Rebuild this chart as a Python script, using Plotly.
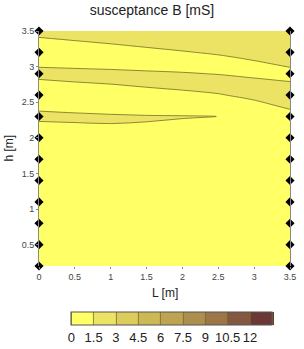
import plotly.graph_objects as go

# grid of the field (L along x, h along y)
L = [0.0, 0.5, 1.0, 1.5, 2.0, 2.5, 3.0, 3.5]
H = [0.2, 0.5, 0.8, 1.1, 1.4, 1.7, 2.0, 2.15, 2.3, 2.45, 2.6, 2.75, 2.9, 3.05, 3.2, 3.35, 3.5]

# susceptance B [mS], one list per L column, bottom (h=0.2) to top (h=3.5)
B_L00 = [0.70, 0.75, 0.80, 0.85, 0.90, 0.95, 0.90, 1.18, 1.78, 1.22, 0.90, 1.22, 1.82, 1.29, 0.90, 1.26, 1.86]
B_L05 = [0.72, 0.76, 0.80, 0.85, 0.90, 0.95, 0.95, 1.35, 1.70, 1.10, 0.85, 1.41, 1.80, 1.20, 0.85, 1.44, 2.04]
B_L10 = [0.74, 0.78, 0.82, 0.86, 0.90, 0.95, 1.00, 1.44, 1.62, 1.02, 0.90, 1.49, 1.74, 1.14, 1.02, 1.62, 2.22]
B_L15 = [0.75, 0.80, 0.84, 0.88, 0.92, 0.96, 1.00, 1.44, 1.56, 0.96, 1.06, 1.66, 1.66, 1.06, 1.22, 1.82, 2.42]
B_L20 = [0.76, 0.80, 0.85, 0.90, 0.94, 0.98, 1.00, 1.30, 1.55, 0.80, 1.22, 1.82, 1.58, 0.98, 1.42, 2.02, 2.50]
B_L25 = [0.78, 0.82, 0.86, 0.90, 0.95, 1.00, 1.05, 1.20, 1.497, 0.90, 1.42, 2.02, 1.46, 1.04, 1.64, 2.24, 2.60]
B_L30 = [0.80, 0.84, 0.88, 0.92, 0.96, 1.00, 1.00, 1.00, 1.00, 1.18, 1.78, 1.86, 1.26, 1.36, 1.96, 2.30, 2.60]
B_L35 = [0.82, 0.86, 0.90, 0.94, 0.98, 1.02, 1.00, 1.00, 1.10, 1.70, 2.10, 1.63, 1.14, 1.74, 2.20, 2.40, 2.60]

# measurement points on both sides
SENSOR_L = [0.0, 3.5]
SENSOR_H = [0.2, 0.5, 0.8, 1.1, 1.4, 1.7, 2.0, 2.3, 2.6, 2.9, 3.2, 3.5]

# colour levels
LEVELS = [0, 1.5, 3, 4.5, 6, 7.5, 9, 10.5, 12]
LEVEL_TEXT = ["0", "1.5", "3", "4.5", "6", "7.5", "9", "10.5", "12"]
LEVEL_COLORS = ["rgb(255,255,102)", "rgb(236,226,100)", "rgb(220,204,92)", "rgb(205,184,86)",
                "rgb(190,163,80)", "rgb(174,142,76)", "rgb(156,118,70)", "rgb(132,88,64)",
                "rgb(108,56,54)"]

columns = [B_L00, B_L05, B_L10, B_L15, B_L20, B_L25, B_L30, B_L35]
z = [[col[i] for col in columns] for i in range(len(H))]

n = len(LEVEL_COLORS)
cscale = []
for i, c in enumerate(LEVEL_COLORS):
    cscale.append([i / n, c])
    cscale.append([(i + 1) / n, c])

fig = go.Figure()
fig.add_trace(go.Contour(
    x=L, y=H, z=z,
    zmin=0, zmax=13.5,
    autocontour=False,
    contours=dict(start=0, end=13.5, size=1.5, coloring="fill"),
    colorscale=cscale,
    line=dict(color="rgb(115,112,40)", width=0.8, smoothing=1),
    colorbar=dict(
        orientation="h",
        x=0.529, xanchor="center",
        y=-0.1945, yanchor="top", ypad=0, xpad=0,
        len=0.80, lenmode="fraction",
        thickness=13,
        tickvals=LEVELS, ticktext=LEVEL_TEXT, tickangle=0,
        ticks="", ticklabelposition="outside bottom",
        tickfont=dict(family="Liberation Sans, Arial", size=13, color="#222"),
        outlinecolor="#555", outlinewidth=1,
    ),
    hoverinfo="skip",
))

sx, sy = [], []
for l in SENSOR_L:
    for h in SENSOR_H:
        sx.append(l)
        sy.append(h)
fig.add_trace(go.Scatter(
    x=sx, y=sy, mode="markers",
    marker=dict(symbol="diamond", size=7, color="black"),
    cliponaxis=False, showlegend=False, hoverinfo="skip",
))

tickfont = dict(family="Liberation Sans, Arial", size=9, color="#444")
fig.update_layout(
    width=304, height=349,
    margin=dict(l=39, r=8, t=31, b=73),
    paper_bgcolor="white", plot_bgcolor="white",
    showlegend=False,
    title=dict(text="susceptance B [mS]", x=0.5, xanchor="center", y=0.972, yanchor="middle",
               font=dict(family="Liberation Sans, Arial", size=14, color="#222")),
    xaxis=dict(range=[0, 3.5], tickvals=[0, 0.5, 1, 1.5, 2, 2.5, 3, 3.5],
               ticktext=["0", "0.5", "1", "1.5", "2", "2.5", "3", "3.5"],
               ticks="outside", ticklen=2, tickcolor="#888", tickfont=tickfont,
               showgrid=False, zeroline=False, showline=False),
    yaxis=dict(range=[0.2, 3.5], tickvals=[0.5, 1, 1.5, 2, 2.5, 3, 3.5],
               ticktext=["0.5", "1", "1.5", "2", "2.5", "3", "3.5"],
               ticks="outside", ticklen=2, tickcolor="#888", tickfont=tickfont,
               showgrid=False, zeroline=False, showline=True, mirror=True,
               linecolor="#888", linewidth=1),
    annotations=[
        dict(text="L [m]", xref="paper", yref="paper", x=0.5, y=0, xanchor="center",
             yanchor="middle", yshift=-27, showarrow=False,
             font=dict(family="Liberation Sans, Arial", size=12, color="#222")),
        dict(text="h [m]", xref="paper", yref="paper", x=0, y=0.5, xanchor="center",
             yanchor="middle", xshift=-31, textangle=-90, showarrow=False,
             font=dict(family="Liberation Sans, Arial", size=12, color="#222")),
    ],
)

fig.write_html("out.html")
